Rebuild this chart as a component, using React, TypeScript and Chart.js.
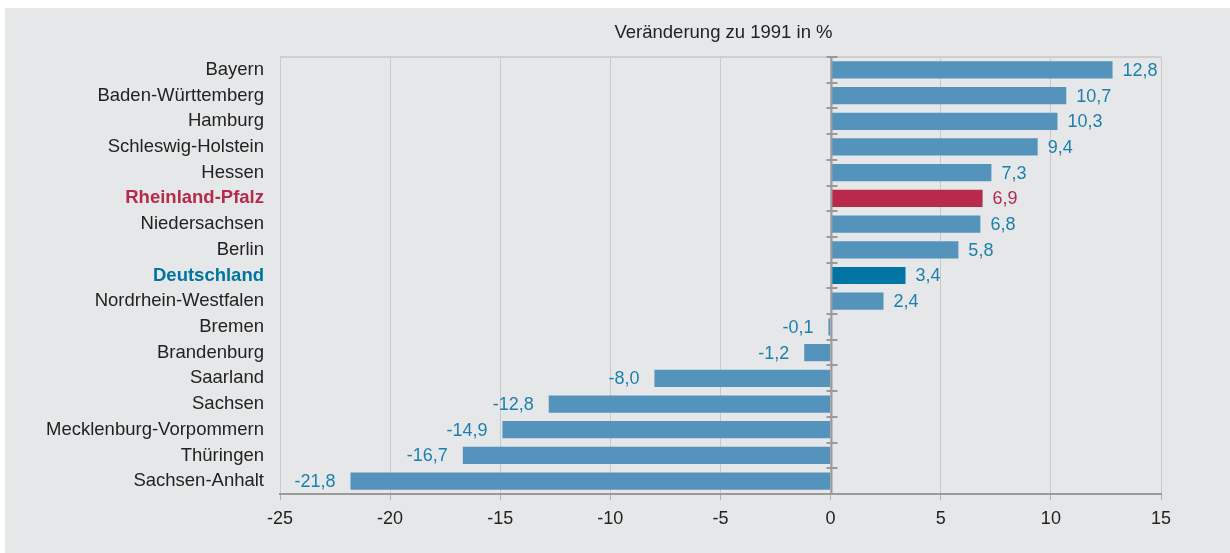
import React, { useEffect, useRef } from 'react';
import { Chart, registerables } from 'chart.js';
Chart.register(...registerables);

const categories = [
  'Bayern', 'Baden-Württemberg', 'Hamburg', 'Schleswig-Holstein', 'Hessen',
  'Rheinland-Pfalz', 'Niedersachsen', 'Berlin', 'Deutschland', 'Nordrhein-Westfalen',
  'Bremen', 'Brandenburg', 'Saarland', 'Sachsen', 'Mecklenburg-Vorpommern',
  'Thüringen', 'Sachsen-Anhalt',
];
const values = [12.8, 10.7, 10.3, 9.4, 7.3, 6.9, 6.8, 5.8, 3.4, 2.4, -0.1, -1.2, -8.0, -12.8, -14.9, -16.7, -21.8];
const xMin = -25;
const xMax = 15;
const xStep = 5;
const title = 'Veränderung zu 1991 in %';
const highlightRP = 'Rheinland-Pfalz';
const highlightDE = 'Deutschland';

const BG = '#e6e7e8';
const BAR = '#5493bc';
const RP = '#b8294c';
const DE = '#0074a3';
const LABEL = '#1b7fb3';
const FONT = '"Liberation Sans", Arial, sans-serif';
const FS = 18;
const FS_CAT = 18.5;

const fmt = (v: number) => v.toFixed(1).replace('.', ',');

export default function App() {
  const ref = useRef<HTMLCanvasElement>(null);
  useEffect(() => {
    document.body.style.margin = '0';
    const custom = {
      id: 'custom',
      beforeDraw(chart: any) {
        const { ctx, width, height } = chart;
        ctx.save();
        ctx.fillStyle = BG;
        ctx.fillRect(0, 0, width, height);
        ctx.restore();
      },
      afterDatasetsDraw(chart: any) {
        const { ctx, chartArea } = chart;
        const xs = chart.scales.x;
        ctx.save();
        // top line
        ctx.strokeStyle = '#cfcfcf';
        ctx.lineWidth = 2;
        ctx.beginPath();
        ctx.moveTo(chartArea.left, chartArea.top);
        ctx.lineTo(chartArea.right, chartArea.top);
        ctx.stroke();
        // zero axis
        const x0 = Math.round(xs.getPixelForValue(0)) + 0.5;
        ctx.strokeStyle = '#9a9a9a';
        ctx.lineWidth = 2;
        ctx.beginPath();
        ctx.moveTo(x0, chartArea.top);
        ctx.lineTo(x0, chartArea.bottom);
        ctx.stroke();
        const n = categories.length;
        const step = (chartArea.bottom - chartArea.top) / n;
        for (let i = 0; i <= n; i++) {
          const y = Math.round(chartArea.top + i * step);
          ctx.beginPath();
          ctx.moveTo(x0 - 5, y);
          ctx.lineTo(x0 + 6, y);
          ctx.stroke();
        }
        // value labels
        const meta = chart.getDatasetMeta(0);
        ctx.font = `${FS}px ${FONT}`;
        ctx.textBaseline = 'middle';
        meta.data.forEach((el: any, i: number) => {
          const v = values[i];
          ctx.fillStyle = categories[i] === highlightRP ? RP : LABEL;
          if (v >= 0) {
            ctx.textAlign = 'left';
            ctx.fillText(fmt(v), el.x + 10, el.y + 1);
          } else {
            ctx.textAlign = 'right';
            ctx.fillText(fmt(v), el.x - 15, el.y + 1);
          }
        });
        // title
        ctx.fillStyle = '#222';
        ctx.font = `18.5px ${FONT}`;
        ctx.textAlign = 'center';
        ctx.fillText(title, (chartArea.left + chartArea.right) / 2 + 3, 25);
        ctx.restore();
      },
    };

    const chart = new Chart(ref.current as HTMLCanvasElement, {
      type: 'bar',
      data: {
        labels: categories,
        datasets: [
          {
            data: values,
            backgroundColor: categories.map((c) => (c === highlightRP ? RP : c === highlightDE ? DE : BAR)),
            barPercentage: 0.67,
            categoryPercentage: 1,
          },
        ],
      },
      options: {
        indexAxis: 'y',
        animation: false,
        responsive: false,
        devicePixelRatio: 1,
        layout: { padding: { top: 49, right: 69, left: 0, bottom: 0 } },
        plugins: { legend: { display: false }, tooltip: { enabled: false }, title: { display: false } },
        scales: {
          x: {
            min: xMin,
            max: xMax,
            afterFit: (s: any) => { s.height = 59; },
            ticks: {
              stepSize: xStep,
              color: '#222',
              font: { size: FS, family: FONT },
              padding: 8,
              callback: (v: any) => String(v),
            },
            grid: { color: '#c9c9c9', lineWidth: 1, tickLength: 6, tickColor: '#b0b0b0' },
            border: { color: '#9a9a9a', width: 2 },
          },
          y: {
            afterFit: (s: any) => { s.width = 275; },
            ticks: {
              padding: 16,
              color: (c: any) => (categories[c.index] === highlightRP ? RP : categories[c.index] === highlightDE ? DE : '#222'),
              font: (c: any) => ({
                size: FS_CAT,
                family: FONT,
                weight: categories[c.index] === highlightRP || categories[c.index] === highlightDE ? 'bold' : 'normal',
              }),
            },
            grid: { display: true, drawOnChartArea: false, drawTicks: false },
            border: { display: false },
          },
        },
      },
      plugins: [custom],
    } as any);
    return () => chart.destroy();
  }, []);
  return (
    <div style={{ background: '#fff', padding: '8px 0 0 5px', width: 1230, height: 553, boxSizing: 'border-box' }}>
      <canvas ref={ref} width={1225} height={545} style={{ display: 'block' }} />
    </div>
  );
}
